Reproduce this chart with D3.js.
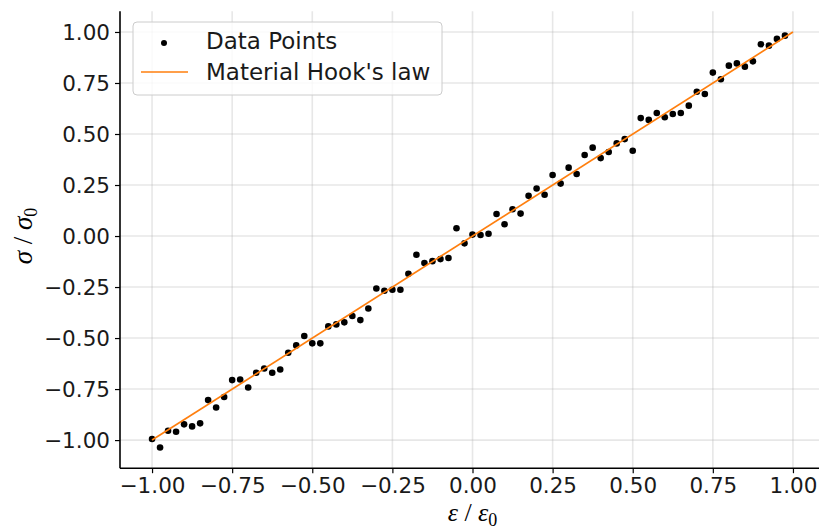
<!DOCTYPE html>
<html>
<head>
<meta charset="utf-8">
<script src="https://cdn.jsdelivr.net/npm/d3@7"></script>
<style>
  html, body { margin: 0; padding: 0; background: #ffffff; }
  svg { display: block; }
  .tick text { font-family: "DejaVu Sans", sans-serif; font-size: 21.5px; fill: #1a1a1a; }
</style>
</head>
<body>
<svg id="chart" width="819" height="529"></svg>
<script>
// Normalised strain of each measurement (step 0.025 from -1)
const strain = [
  -1.000, -0.975, -0.950, -0.925, -0.900, -0.875, -0.850, -0.825, -0.800, -0.775,
  -0.750, -0.725, -0.700, -0.675, -0.650, -0.625, -0.600, -0.575, -0.550, -0.525,
  -0.500, -0.475, -0.450, -0.425, -0.400, -0.375, -0.350, -0.325, -0.300, -0.275,
  -0.250, -0.225, -0.200, -0.175, -0.150, -0.125, -0.100, -0.075, -0.050, -0.025,
   0.000,  0.025,  0.050,  0.075,  0.100,  0.125,  0.150,  0.175,  0.200,  0.225,
   0.250,  0.275,  0.300,  0.325,  0.350,  0.375,  0.400,  0.425,  0.450,  0.475,
   0.500,  0.525,  0.550,  0.575,  0.600,  0.625,  0.650,  0.675,  0.700,  0.725,
   0.750,  0.775,  0.800,  0.825,  0.850,  0.875,  0.900,  0.925,  0.950,  0.975
];

// Measured normalised stress
const stress = [
  -0.995, -1.036, -0.954, -0.959, -0.923, -0.933, -0.918, -0.804, -0.840, -0.789,
  -0.706, -0.703, -0.742, -0.670, -0.649, -0.670, -0.654, -0.572, -0.536, -0.490,
  -0.526, -0.526, -0.443, -0.433, -0.423, -0.392, -0.412, -0.355, -0.257, -0.268,
  -0.263, -0.263, -0.185, -0.092, -0.132, -0.123, -0.113, -0.108,  0.038, -0.036,
   0.007,  0.005,  0.011,  0.108,  0.058,  0.131,  0.110,  0.197,  0.233,  0.202,
   0.299,  0.257,  0.335,  0.304,  0.397,  0.433,  0.382,  0.412,  0.454,  0.475,
   0.418,  0.578,  0.569,  0.603,  0.582,  0.598,  0.603,  0.639,  0.707,  0.696,
   0.801,  0.768,  0.835,  0.846,  0.830,  0.856,  0.940,  0.933,  0.966,  0.982
];

// Linear-elastic reference line (Hooke's law, sigma = E * epsilon)
const lawStrain = [-1.0, 1.0];
const lawStress = [-1.0, 1.0];

const tickValues = [-1.0, -0.75, -0.5, -0.25, 0.0, 0.25, 0.5, 0.75, 1.0];

const legendLabels = ["Data Points", "Material Hook's law"];

const svg = d3.select("#chart");
const plot = { left: 120, right: 825, top: 11.2, bottom: 468.2 };

// Data limits with a 5% margin on each side
function padded(values) {
  const [lo, hi] = d3.extent(values);
  const m = (hi - lo) * 0.05;
  return [lo - m, hi + m];
}

const x = d3.scaleLinear()
  .domain(padded(strain.concat(lawStrain)))
  .range([plot.left, plot.right]);
const y = d3.scaleLinear()
  .domain(padded(stress.concat(lawStress)))
  .range([plot.bottom, plot.top]);

const fmt = d3.format(".2f");

// Grid
const grid = svg.append("g").attr("class", "grid");
grid.selectAll("line.vx").data(tickValues).join("line")
  .attr("x1", d => x(d)).attr("x2", d => x(d))
  .attr("y1", plot.top).attr("y2", plot.bottom)
  .attr("stroke", "#b0b0b0").attr("stroke-opacity", 0.3).attr("stroke-width", 1.6);
grid.selectAll("line.hy").data(tickValues).join("line")
  .attr("x1", plot.left).attr("x2", plot.right)
  .attr("y1", d => y(d)).attr("y2", d => y(d))
  .attr("stroke", "#b0b0b0").attr("stroke-opacity", 0.3).attr("stroke-width", 1.6);

// Data points
svg.append("g").selectAll("circle").data(strain).join("circle")
  .attr("cx", (d, i) => x(d))
  .attr("cy", (d, i) => y(stress[i]))
  .attr("r", 3.3)
  .attr("fill", "#000000");

// Hooke's law line
const line = d3.line().x(d => x(d[0])).y(d => y(d[1]));
svg.append("path")
  .datum(lawStrain.map((d, i) => [d, lawStress[i]]))
  .attr("d", line)
  .attr("fill", "none")
  .attr("stroke", "#ff7f0e")
  .attr("stroke-width", 1.7);

// Axes
const xAxis = svg.append("g")
  .attr("transform", `translate(0,${plot.bottom})`)
  .call(d3.axisBottom(x).tickValues(tickValues).tickFormat(fmt).tickSize(5).tickPadding(5).tickSizeOuter(0));
const yAxis = svg.append("g")
  .attr("transform", `translate(${plot.left},0)`)
  .call(d3.axisLeft(y).tickValues(tickValues).tickFormat(fmt).tickSize(5).tickPadding(5).tickSizeOuter(0));

[xAxis, yAxis].forEach(a => {
  a.select(".domain").attr("stroke", "#000").attr("stroke-width", 1.6);
  a.selectAll(".tick line").attr("stroke", "#000").attr("stroke-width", 1.2);
});
xAxis.select(".domain").attr("d", `M${plot.left},0H${plot.right}`);
yAxis.select(".domain").attr("d", `M0,${plot.bottom}V${plot.top}`);
yAxis.selectAll(".tick text").attr("dy", "0.36em");

// Axis labels
const xl = svg.append("text")
  .attr("x", x(0)).attr("y", 521)
  .attr("text-anchor", "middle")
  .style("font-family", "'Liberation Serif', 'DejaVu Serif', serif")
  .style("font-size", "26px")
  .attr("fill", "#000");
xl.append("tspan").style("font-style", "italic").text("ε");
xl.append("tspan").text(" / ");
xl.append("tspan").style("font-style", "italic").text("ε");
xl.append("tspan").attr("dy", 5).style("font-size", "18px").text("0");

const yl = svg.append("text")
  .attr("transform", `translate(32,${y(0)}) rotate(-90)`)
  .attr("text-anchor", "middle")
  .style("font-family", "'Liberation Serif', 'DejaVu Serif', serif")
  .style("font-size", "27px")
  .attr("fill", "#000");
yl.append("tspan").style("font-style", "italic").text("σ");
yl.append("tspan").text(" / ");
yl.append("tspan").style("font-style", "italic").text("σ");
yl.append("tspan").attr("dy", 5).style("font-size", "18px").text("0");

// Legend
const legend = svg.append("g").attr("transform", "translate(133,22)");
legend.append("rect")
  .attr("width", 309).attr("height", 73)
  .attr("rx", 4).attr("ry", 4)
  .attr("fill", "#ffffff").attr("fill-opacity", 0.8)
  .attr("stroke", "#cccccc").attr("stroke-width", 1);
legend.append("circle")
  .attr("cx", 31).attr("cy", 21).attr("r", 3)
  .attr("fill", "#000");
legend.append("line")
  .attr("x1", 8).attr("x2", 55).attr("y1", 50).attr("y2", 50)
  .attr("stroke", "#ff7f0e").attr("stroke-width", 1.7);
legend.selectAll("text").data(legendLabels).join("text")
  .attr("x", 73)
  .attr("y", (d, i) => 27 + i * 31)
  .style("font-family", "'DejaVu Sans', sans-serif")
  .style("font-size", "23px")
  .attr("fill", "#1a1a1a")
  .text(d => d);
</script>
</body>
</html>
